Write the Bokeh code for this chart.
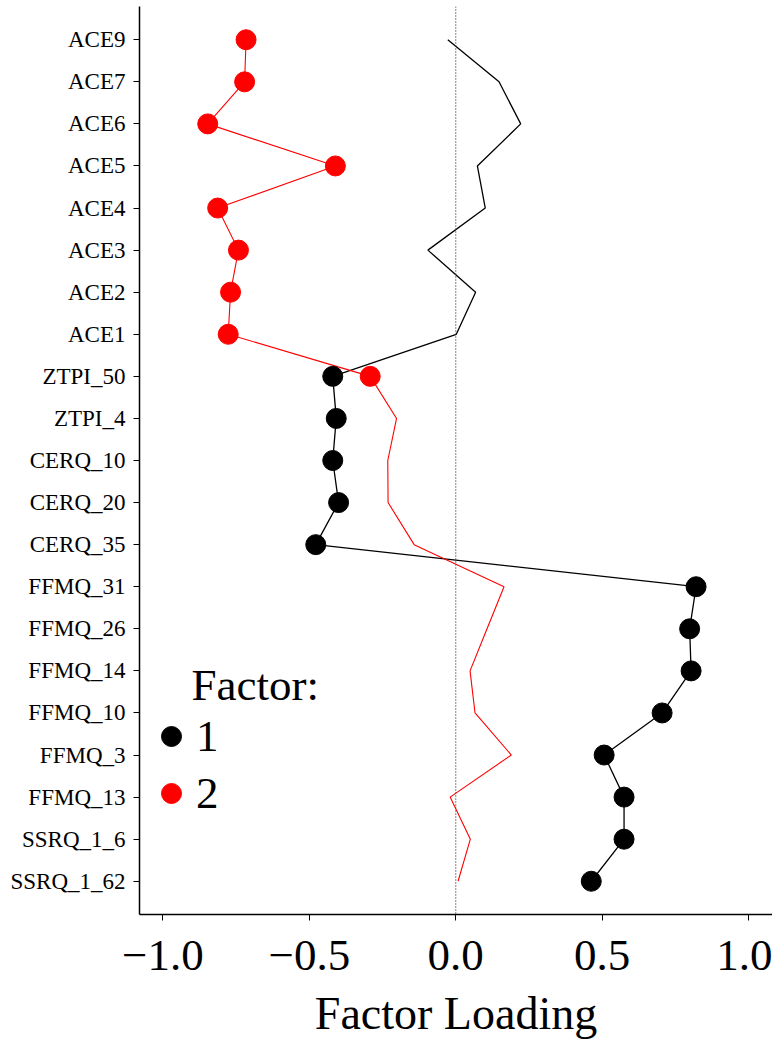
from bokeh.plotting import figure
from bokeh.models import (FactorRange, Range1d, Span, Legend, LegendItem, Label,
                          FixedTicker, CustomJSTickFormatter)
from bokeh.embed import file_html
from bokeh.resources import INLINE

# ---- data (top to bottom as shown) ----
items = ["ACE9", "ACE7", "ACE6", "ACE5", "ACE4", "ACE3", "ACE2", "ACE1",
         "ZTPI_50", "ZTPI_4", "CERQ_10", "CERQ_20", "CERQ_35",
         "FFMQ_31", "FFMQ_26", "FFMQ_14", "FFMQ_10", "FFMQ_3", "FFMQ_13",
         "SSRQ_1_6", "SSRQ_1_62"]
factor1 = [-0.027, 0.148, 0.222, 0.074, 0.101, -0.095, 0.068, 0.002,
           -0.420, -0.408, -0.420, -0.400, -0.478,
           0.821, 0.799, 0.804, 0.705, 0.507, 0.575,
           0.575, 0.463]
factor2 = [-0.716, -0.721, -0.847, -0.411, -0.813, -0.742, -0.769, -0.777,
           -0.292, -0.202, -0.232, -0.231, -0.142,
           0.165, 0.107, 0.049, 0.066, 0.190, -0.019,
           0.050, 0.008]
x_ticks = [-1.0, -0.5, 0.0, 0.5, 1.0]
legend_title = "Factor:"
series_labels = ["1", "2"]
x_title = "Factor Loading"
salient_cutoff = 0.25

FONT = "Liberation Serif"

p = figure(width=772, height=1043,
           x_range=Range1d(-1.08, 1.082),
           y_range=FactorRange(factors=items[::-1], range_padding=0.29,
                               range_padding_units="absolute"),
           output_backend="svg", toolbar_location=None,
           min_border_left=139, min_border_right=0, min_border_top=6,
           min_border_bottom=129)
p.outline_line_color = None
p.xgrid.visible = False
p.ygrid.visible = False
p.background_fill_color = "white"

# zero reference line
p.add_layout(Span(location=0, dimension="height", line_color="#444444",
                  line_width=1.3, line_dash="1 2"))

# lines
p.line(x=factor1, y=items, line_color="black", line_width=1.3)
p.line(x=factor2, y=items, line_color="red", line_width=1.1)

# markers where the loading is salient
f1x = [v for v in factor1 if abs(v) >= salient_cutoff]
f1y = [c for c, v in zip(items, factor1) if abs(v) >= salient_cutoff]
f2x = [v for v in factor2 if abs(v) >= salient_cutoff]
f2y = [c for c, v in zip(items, factor2) if abs(v) >= salient_cutoff]
r1 = p.scatter(x=f1x, y=f1y, size=20, fill_color="black", line_color="black")
r2 = p.scatter(x=f2x, y=f2y, size=20, fill_color="red", line_color="red")

# axes
xa = p.xaxis[0]
xa.ticker = FixedTicker(ticks=x_ticks)
xa.formatter = CustomJSTickFormatter(
    code="return (tick < 0 ? '\\u2212' : '') + Math.abs(tick).toFixed(1);")
xa.axis_label = x_title
xa.axis_label_text_font = FONT
xa.axis_label_text_font_size = "46px"
xa.axis_label_text_font_style = "normal"
xa.axis_label_text_color = "black"
xa.axis_label_standoff = 15
xa.major_label_text_font = FONT
xa.major_label_text_font_size = "45px"
xa.major_label_text_color = "black"
xa.major_label_standoff = 20
xa.axis_line_width = 1.5
xa.axis_line_color = "black"
xa.major_tick_in = 0
xa.major_tick_out = 6
xa.major_tick_line_color = "black"
xa.minor_tick_line_color = None

ya = p.yaxis[0]
ya.major_label_text_font = FONT
ya.major_label_text_font_size = "23px"
ya.major_label_text_color = "black"
ya.major_label_standoff = 8
ya.axis_line_width = 1.5
ya.axis_line_color = "black"
ya.major_tick_in = 0
ya.major_tick_out = 6
ya.major_tick_line_color = "black"

# legend
legend = Legend(items=[LegendItem(label=series_labels[0], renderers=[r1]),
                       LegendItem(label=series_labels[1], renderers=[r2])],
                location=(7, 95), orientation="vertical",
                glyph_width=50, glyph_height=50, label_standoff=-6,
                spacing=5, padding=0, margin=0,
                border_line_alpha=0, background_fill_alpha=0,
                label_text_font=FONT, label_text_font_size="45px",
                label_text_color="black")
p.add_layout(legend)
p.add_layout(Label(x=52, y=230, x_units="screen", y_units="screen",
                   text=legend_title, text_font=FONT, text_font_size="45px",
                   text_color="black", text_baseline="alphabetic"))

open("out.html", "w").write(file_html(p, INLINE))
